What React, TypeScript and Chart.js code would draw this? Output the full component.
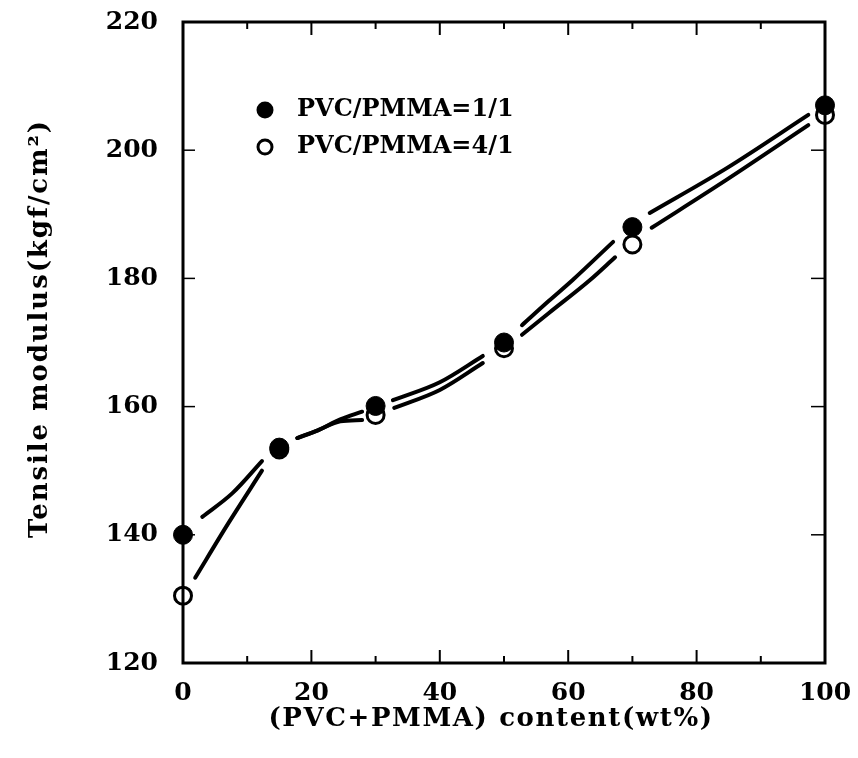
import React, { useEffect, useRef } from "react";
import { Chart, registerables } from "chart.js";

Chart.register(...registerables);

// Measured points
const contentWt = [0, 15, 30, 50, 70, 100];
const modulus11 = [140, 153.6, 160.1, 170, 188, 207];
const modulus41 = [130.5, 153.3, 158.7, 169.1, 185.3, 205.5];

// Hand-drawn fitted curves (null = pen lifted around a marker)
const fit11X = [3, 7.7, 12.3, 15, 17.8, 21, 24.5, 27.9, 30, 32.7, 40, 46.7, 50, 52.8, 57, 60.7, 67, 70, 72.7, 84.7, 97.4];
const fit11Y = [142.8, 146.5, 151.5, null, 155.1, 156.3, 158.0, 159.2, null, 161.0, 163.8, 167.9, null, 172.7, 176.5, 179.75, 185.7, null, 190.2, 197.2, 205.5];
const fit41X = [1.9, 7, 12.3, 15, 17.8, 21, 24.5, 27.9, 30, 32.9, 40, 46.7, 50, 52.8, 57, 63.4, 67.3, 70, 73, 84.7, 97.4];
const fit41Y = [133.3, 141.7, 150.0, null, 155.1, 156.3, 157.7, 157.9, null, 159.8, 162.6, 166.8, null, 171.2, 174.6, 179.75, 183.3, null, 187.9, 195.4, 203.9];

const xTicks = [0, 20, 40, 60, 80, 100];
const yTicks = [120, 140, 160, 180, 200, 220];
const seriesLabels = ["PVC/PMMA=1/1", "PVC/PMMA=4/1"];
const xTitle = "(PVC+PMMA) content(wt%)";
const yTitle = "Tensile modulus(kgf/cm\u00B2)";

const FONT = "'DejaVu Serif', serif";
const TICK_SIZE = 25;
const LEGEND_SIZE = 24;
const TITLE_SIZE = 26;

const pts = (xs: number[], ys: (number | null)[]) => xs.map((x, i) => ({ x, y: ys[i] }));

const framePlugin = {
  id: "frame",
  beforeDraw(chart: any) {
    (chart.ctx as any).letterSpacing = "0px";
  },
  afterDatasetsDraw(chart: any) {
    const { ctx, chartArea, scales } = chart;
    const { left, right, top, bottom } = chartArea;
    const xs = scales.x;
    const ys = scales.y;
    const seg = (a: number, b: number, c: number, d: number) => {
      ctx.beginPath();
      ctx.moveTo(a, b);
      ctx.lineTo(c, d);
      ctx.stroke();
    };
    ctx.save();
    ctx.strokeStyle = "#000";
    ctx.lineWidth = 2;
    for (let v = xTicks[0] + 10; v < xTicks[xTicks.length - 1]; v += 10) {
      const px = xs.getPixelForValue(v);
      const len = v % 20 === 0 ? 13 : 7;
      seg(px, bottom, px, bottom - len);
      seg(px, top, px, top + len);
    }
    ctx.lineWidth = 1.5;
    for (let i = 1; i < yTicks.length - 1; i++) {
      const py = ys.getPixelForValue(yTicks[i]);
      seg(left, py, left + 12, py);
      seg(right, py, right - 14, py);
    }
    ctx.lineWidth = 3;
    ctx.strokeRect(left, top, right - left, bottom - top);
    ctx.restore();
  },
  afterDraw(chart: any) {
    const { ctx, chartArea } = chart;
    const { left, right, top, bottom } = chartArea;
    ctx.save();
    ctx.fillStyle = "#000";
    ctx.strokeStyle = "#000";
    ctx.font = `bold ${LEGEND_SIZE}px ${FONT}`;
    ctx.textBaseline = "middle";
    // Legend
    const lx = left + 82;
    const rows = [top + 88, top + 125];
    ctx.textAlign = "left";
    rows.forEach((ry, i) => {
      ctx.beginPath();
      if (i === 0) {
        ctx.arc(lx, ry, 8.5, 0, Math.PI * 2);
        ctx.fill();
      } else {
        ctx.lineWidth = 3;
        ctx.arc(lx, ry, 7, 0, Math.PI * 2);
        ctx.fillStyle = "#fff";
        ctx.fill();
        ctx.stroke();
        ctx.fillStyle = "#000";
      }
      ctx.fillText(seriesLabels[i], left + 114, ry);
    });
    // Axis titles
    ctx.font = `bold ${TITLE_SIZE}px ${FONT}`;
    (ctx as any).letterSpacing = "1.6px";
    ctx.textAlign = "center";
    ctx.fillText(xTitle, (left + right) / 2 - 13, bottom + 56);
    ctx.translate(40, (top + bottom) / 2 - 14);
    ctx.rotate(-Math.PI / 2);
    (ctx as any).letterSpacing = "1.9px";
    ctx.fillText(yTitle, 0, 0);
    (ctx as any).letterSpacing = "0px";
    ctx.restore();
    (ctx as any).letterSpacing = "0px";
  },
};

const zeroPad = (s: any) => {
  s.paddingTop = 0;
  s.paddingBottom = 0;
  s.paddingLeft = 0;
  s.paddingRight = 0;
};

export default function App() {
  const ref = useRef<HTMLCanvasElement>(null);
  useEffect(() => {
    if (!ref.current) return;
    const lineDs = (xs: number[], ys: (number | null)[]) => ({
      type: "line" as const,
      data: pts(xs, ys),
      borderColor: "#000",
      borderWidth: 4,
      pointRadius: 0,
      showLine: true,
      spanGaps: false,
      cubicInterpolationMode: "monotone" as const,
      borderCapStyle: "round" as const,
      order: 5,
    });
    const chart = new Chart(ref.current, {
      type: "scatter",
      data: {
        datasets: [
          lineDs(fit11X, fit11Y),
          lineDs(fit41X, fit41Y),
          {
            label: seriesLabels[1],
            data: pts(contentWt, modulus41),
            pointRadius: 8.5,
            pointBackgroundColor: "#fff",
            pointBorderColor: "#000",
            pointBorderWidth: 3,
            clip: false,
            order: 1,
          },
          {
            label: seriesLabels[0],
            data: pts(contentWt, modulus11),
            pointRadius: 9.5,
            pointBackgroundColor: "#000",
            pointBorderColor: "#000",
            pointBorderWidth: 1,
            clip: false,
            order: 0,
          },
        ],
      } as any,
      options: {
        animation: false,
        responsive: false,
        maintainAspectRatio: false,
        layout: { padding: { left: 0, top: 22, right: 33, bottom: 0 } },
        plugins: { legend: { display: false }, tooltip: { enabled: false } },
        events: [],
        scales: {
          x: {
            type: "linear",
            min: 0,
            max: 100,
            afterBuildTicks: (s: any) => {
              s.ticks = xTicks.map((v) => ({ value: v }));
            },
            ticks: {
              color: "#000",
              padding: 7,
              font: { family: FONT, size: TICK_SIZE, weight: "bold" },
            },
            grid: { display: false },
            border: { display: false },
            afterFit: (s: any) => {
              s.height = 95;
              zeroPad(s);
            },
          },
          y: {
            type: "linear",
            min: 120,
            max: 220,
            afterBuildTicks: (s: any) => {
              s.ticks = yTicks.map((v) => ({ value: v }));
            },
            ticks: {
              color: "#000",
              padding: 17,
              font: { family: FONT, size: TICK_SIZE, weight: "bold" },
            },
            grid: { display: false },
            border: { display: false },
            afterFit: (s: any) => {
              s.width = 183;
              zeroPad(s);
            },
          },
        },
      } as any,
      plugins: [framePlugin],
    });
    return () => chart.destroy();
  }, []);
  return (
    <div style={{ position: "absolute", left: 0, top: 0, width: 858, height: 758, background: "#fff" }}>
      <canvas ref={ref} width={858} height={758} style={{ width: 858, height: 758 }} />
    </div>
  );
}
